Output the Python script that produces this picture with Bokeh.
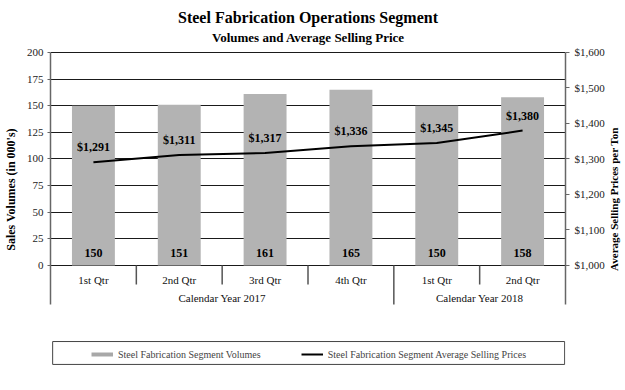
import math
from bokeh.plotting import figure
from bokeh.layouts import row
from bokeh.models import (Range1d, LinearAxis, FixedTicker, Legend, LegendItem,
                          ColumnDataSource, NumeralTickFormatter)
from bokeh.core.properties import value
from bokeh.embed import file_html
from bokeh.resources import INLINE

# ---- data ----
quarters = ["1st Qtr", "2nd Qtr", "3rd Qtr", "4th Qtr", "1st Qtr", "2nd Qtr"]
years = ["Calendar Year 2017", "Calendar Year 2018"]
quarters_per_year = [4, 2]
volumes = [150, 151, 161, 165, 150, 158]
prices = [1291, 1311, 1317, 1336, 1345, 1380]
vol_ticks = [0, 25, 50, 75, 100, 125, 150, 175, 200]
price_ticks = [1000, 1100, 1200, 1300, 1400, 1500, 1600]
title = "Steel Fabrication  Operations Segment"
subtitle = "Volumes and Average  Selling Price"
left_title = "Sales Volumes (in 000's)"
right_title = "Average  Selling Prices per Ton"

FONT = "Liberation Serif"
n = len(quarters)
xc = [i + 0.5 for i in range(n)]

# the frame spans the whole chart height; volumes 0..200 occupy 213 px of it
V_MIN, V_MAX = -98.6, 241.3
P_PER_V = (price_ticks[-1] - price_ticks[0]) / (vol_ticks[-1] - vol_ticks[0])
def v2p(v):
    return price_ticks[0] + P_PER_V * (v - vol_ticks[0])

AX_BOTTOM = -36.6   # where the axis lines / year separators stop
Q_SEP = -17.8       # quarter separator length
Q_LAB = -13.6
Y_LAB = -30.5
TITLE_Y = 232.9
SUBTITLE_Y = 214.1

TOP, BORDER_L, BORDER_R, BOTTOM = 8, 42, 40, 5
FRAME_W, FRAME_H = 515, 362
TOTAL_H = TOP + FRAME_H + BOTTOM

p = figure(frame_width=FRAME_W, frame_height=FRAME_H, x_range=Range1d(0, n),
           y_range=Range1d(V_MIN, V_MAX), x_axis_type=None,
           output_backend="svg", toolbar_location=None,
           min_border_left=BORDER_L, min_border_right=BORDER_R, min_border_top=TOP,
           min_border_bottom=BOTTOM, background_fill_color="white",
           border_fill_color="white", outline_line_color=None)
p.extra_y_ranges = {"price": Range1d(v2p(V_MIN), v2p(V_MAX))}

# titles
p.text(x=[n / 2], y=[TITLE_Y], text=[title], text_align="center",
       text_baseline="middle", x_offset=2, text_font=value(FONT),
       text_font_size="16px", text_font_style="bold", text_color="black")
p.text(x=[n / 2], y=[SUBTITLE_Y], text=[subtitle], text_align="center",
       text_baseline="middle", x_offset=2, text_font=value(FONT),
       text_font_size="13px", text_font_style="bold", text_color="black")

# left axis
ya = p.yaxis[0]
ya.ticker = FixedTicker(ticks=vol_ticks)
ya.bounds = (AX_BOTTOM, 200)
ya.axis_label = left_title
ya.axis_label_text_font = FONT
ya.axis_label_text_font_size = "12px"
ya.axis_label_text_font_style = "bold"
ya.axis_label_text_color = "black"
ya.axis_label_standoff = 6
ya.major_label_text_font = FONT
ya.major_label_text_font_size = "11px"
ya.major_label_text_color = "#222"
ya.major_label_standoff = 4
ya.axis_line_color = "#666"
ya.axis_line_width = 1.5
ya.major_tick_line_color = "#666"
ya.major_tick_out = 3
ya.major_tick_in = 0
ya.minor_tick_line_color = None

# right axis
ra = LinearAxis(y_range_name="price", ticker=FixedTicker(ticks=price_ticks),
                formatter=NumeralTickFormatter(format="$0,0"),
                bounds=(v2p(AX_BOTTOM), v2p(200)))
ra.major_label_text_font = FONT
ra.major_label_text_font_size = "11px"
ra.major_label_text_color = "#222"
ra.major_label_standoff = 5
ra.axis_line_color = "#666"
ra.axis_line_width = 1.5
ra.major_tick_line_color = "#666"
ra.major_tick_out = 4
ra.major_tick_in = 0
ra.minor_tick_line_color = None
p.add_layout(ra, "right")

# grid
p.ygrid.ticker = FixedTicker(ticks=vol_ticks)
p.ygrid.grid_line_color = "#1a1a1a"
p.ygrid.grid_line_width = 1

# bars
src = ColumnDataSource(dict(x=xc, vol=volumes, price=prices, q=quarters,
                            vlab=[str(v) for v in volumes],
                            plab=["${:,}".format(v) for v in prices]))
p.vbar(x="x", top="vol", bottom=0, width=0.5, source=src,
       fill_color="#b3b3b3", line_color=None)
p.text(x="x", y=0, text="vlab", source=src, text_align="center",
       text_baseline="middle", y_offset=-12, text_font=value(FONT),
       text_font_size="12px", text_font_style="bold", text_color="black")

# price line
line_r = p.line(x="x", y="price", source=src, y_range_name="price",
                line_color="black", line_width=2)
p.text(x="x", y="price", text="plab", source=src, y_range_name="price",
       text_align="center", text_baseline="middle", y_offset=-15,
       text_font=value(FONT), text_font_size="12px", text_font_style="bold",
       text_color="black")

# category axis (quarters + years)
year_bounds = [0]
for k in quarters_per_year:
    year_bounds.append(year_bounds[-1] + k)
q_sep_x = [i for i in range(1, n) if i not in year_bounds]
y_sep_x = [b for b in year_bounds[1:-1]]
p.segment(x0=q_sep_x, y0=[0] * len(q_sep_x), x1=q_sep_x, y1=[Q_SEP] * len(q_sep_x),
          line_color="#555", line_width=1.5)
p.segment(x0=y_sep_x, y0=[0] * len(y_sep_x), x1=y_sep_x, y1=[AX_BOTTOM] * len(y_sep_x),
          line_color="#555", line_width=1.5)
p.text(x=xc, y=[Q_LAB] * n, text=quarters, text_align="center",
       text_baseline="middle", text_font=value(FONT), text_font_size="11px",
       text_color="#111")
year_x = [(year_bounds[i] + year_bounds[i + 1]) / 2 for i in range(len(years))]
p.text(x=year_x, y=[Y_LAB] * len(years), text=years, text_align="center",
       text_baseline="middle", text_font=value(FONT), text_font_size="11px",
       text_color="#111")

# legend box
p.quad(left=[0.025], right=[5.99], top=[-71.4], bottom=[-92.9],
       fill_color=None, line_color="#444", line_width=1)

vol_leg = p.line(x=[float("nan")], y=[float("nan")], line_color="#a8a8a8", line_width=4)
legend = Legend(items=[LegendItem(label="Steel Fabrication Segment Volumes", renderers=[vol_leg]),
                       LegendItem(label="Steel Fabrication Segment Average Selling Prices",
                                  renderers=[line_r])],
                orientation="horizontal", location=(41, 10), padding=2, spacing=40,
                glyph_width=22, glyph_height=12, label_height=12, label_standoff=5,
                label_text_font=FONT, label_text_font_size="10px",
                border_line_color=None, background_fill_alpha=0)
p.add_layout(legend)

# narrow strip to the right carrying the bottom-to-top right-axis title
STRIP_W = 14
strip = figure(width=STRIP_W, height=TOTAL_H, x_range=Range1d(0, STRIP_W),
               y_range=Range1d(TOTAL_H, 0), x_axis_type=None, y_axis_type=None,
               output_backend="svg", toolbar_location=None, min_border=0,
               outline_line_color=None, background_fill_color="white",
               border_fill_color="white")
strip.text(x=[6.5], y=[196], text=[right_title], angle=math.pi / 2,
           text_align="center", text_baseline="middle", text_font=value(FONT),
           text_font_size="11px", text_font_style="bold", text_color="black")

layout = row(p, strip)
open("out.html", "w").write(file_html(layout, INLINE))
